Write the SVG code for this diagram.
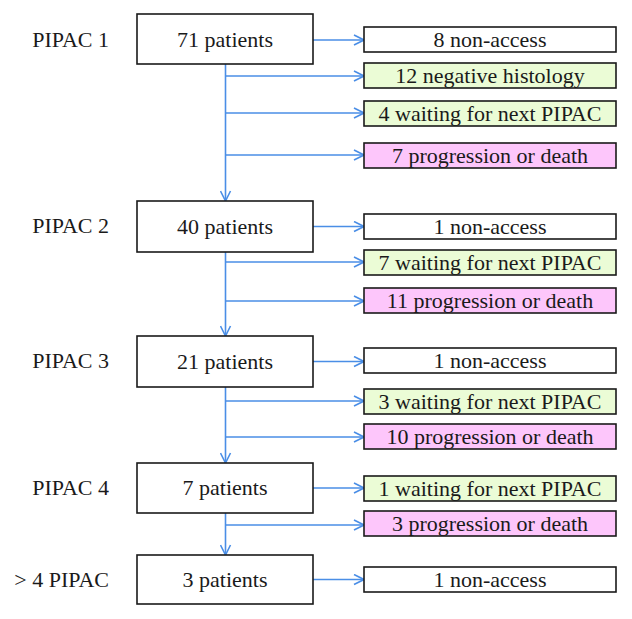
<svg xmlns="http://www.w3.org/2000/svg" width="632" height="619" viewBox="0 0 632 619">
<style>
text{font-family:"Liberation Serif","Times New Roman",serif;font-size:22px;fill:#1a1a1a}
.lbl{text-anchor:end}
.c{text-anchor:middle}
.main{fill:#fff;stroke:#1a1a1a;stroke-width:1.6}
.na{fill:#fff;stroke:#1a1a1a;stroke-width:1.6}
.gr{fill:#ebfcd6;stroke:#1a1a1a;stroke-width:1.6}
.pk{fill:#fdc6fb;stroke:#1a1a1a;stroke-width:1.6}
.ln{stroke:#4a8ee6;stroke-width:1.6;fill:none}
</style>
<defs>
<marker id="ah" viewBox="0 0 12 12" refX="11" refY="6" markerWidth="12" markerHeight="12" markerUnits="userSpaceOnUse" orient="auto">
<path d="M1,1 L11,6 L1,11" fill="none" stroke="#4a8ee6" stroke-width="1.6"/>
</marker>
</defs>
<g id="labels">
<text class="lbl" x="109" y="47">PIPAC 1</text>
<text class="lbl" x="109" y="233">PIPAC 2</text>
<text class="lbl" x="109" y="368">PIPAC 3</text>
<text class="lbl" x="109" y="495">PIPAC 4</text>
<text class="lbl" x="109" y="587">&gt; 4 PIPAC</text>
</g>
<g id="connectors">
<path class="ln" marker-end="url(#ah)" d="M313,40 H364"/>
<path class="ln" marker-end="url(#ah)" d="M225.5,76 H364"/>
<path class="ln" marker-end="url(#ah)" d="M225.5,113 H364"/>
<path class="ln" marker-end="url(#ah)" d="M225.5,155 H364"/>
<path class="ln" marker-end="url(#ah)" d="M225.5,64 V201"/>
<path class="ln" marker-end="url(#ah)" d="M313,226.5 H364"/>
<path class="ln" marker-end="url(#ah)" d="M225.5,262 H364"/>
<path class="ln" marker-end="url(#ah)" d="M225.5,301 H364"/>
<path class="ln" marker-end="url(#ah)" d="M225.5,252 V336"/>
<path class="ln" marker-end="url(#ah)" d="M313,361.5 H364"/>
<path class="ln" marker-end="url(#ah)" d="M225.5,401 H364"/>
<path class="ln" marker-end="url(#ah)" d="M225.5,437 H364"/>
<path class="ln" marker-end="url(#ah)" d="M225.5,387 V463"/>
<path class="ln" marker-end="url(#ah)" d="M313,488 H364"/>
<path class="ln" marker-end="url(#ah)" d="M225.5,525 H364"/>
<path class="ln" marker-end="url(#ah)" d="M225.5,513 V555"/>
<path class="ln" marker-end="url(#ah)" d="M313,579.5 H364"/>
</g>
<g id="p1"><rect class="main" x="137" y="14" width="176" height="50"/><text class="c" x="225" y="47">71 patients</text></g>
<g id="p1-na"><rect class="na" x="364" y="27" width="252" height="25"/><text class="c" x="490" y="47">8 non-access</text></g>
<g id="p1-neg"><rect class="gr" x="364" y="63" width="252" height="25"/><text class="c" x="490" y="83">12 negative histology</text></g>
<g id="p1-wait"><rect class="gr" x="364" y="101" width="252" height="25"/><text class="c" x="490" y="121">4 waiting for next PIPAC</text></g>
<g id="p1-prog"><rect class="pk" x="364" y="143" width="252" height="25"/><text class="c" x="490" y="163">7 progression or death</text></g>
<g id="p2"><rect class="main" x="137" y="201" width="176" height="51"/><text class="c" x="225" y="234">40 patients</text></g>
<g id="p2-na"><rect class="na" x="364" y="214" width="252" height="25"/><text class="c" x="490" y="234">1 non-access</text></g>
<g id="p2-wait"><rect class="gr" x="364" y="250" width="252" height="25"/><text class="c" x="490" y="270">7 waiting for next PIPAC</text></g>
<g id="p2-prog"><rect class="pk" x="364" y="288" width="252" height="25"/><text class="c" x="490" y="308">11 progression or death</text></g>
<g id="p3"><rect class="main" x="137" y="336" width="176" height="51"/><text class="c" x="225" y="369">21 patients</text></g>
<g id="p3-na"><rect class="na" x="364" y="348" width="252" height="25"/><text class="c" x="490" y="368">1 non-access</text></g>
<g id="p3-wait"><rect class="gr" x="364" y="389" width="252" height="25"/><text class="c" x="490" y="409">3 waiting for next PIPAC</text></g>
<g id="p3-prog"><rect class="pk" x="364" y="424" width="252" height="25"/><text class="c" x="490" y="444">10 progression or death</text></g>
<g id="p4"><rect class="main" x="137" y="463" width="176" height="50"/><text class="c" x="225" y="495">7 patients</text></g>
<g id="p4-wait"><rect class="gr" x="364" y="476" width="252" height="25"/><text class="c" x="490" y="496">1 waiting for next PIPAC</text></g>
<g id="p4-prog"><rect class="pk" x="364" y="511" width="252" height="25"/><text class="c" x="490" y="531">3 progression or death</text></g>
<g id="p5"><rect class="main" x="137" y="555" width="176" height="49"/><text class="c" x="225" y="587">3 patients</text></g>
<g id="p5-na"><rect class="na" x="364" y="567" width="252" height="25"/><text class="c" x="490" y="587">1 non-access</text></g>
</svg>
